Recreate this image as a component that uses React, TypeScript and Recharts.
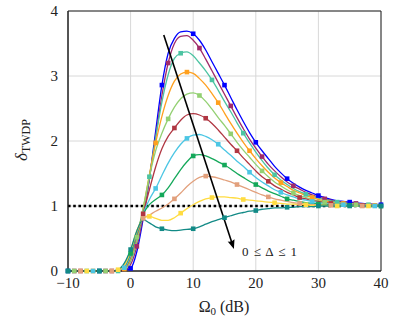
import {
  ComposedChart,
  Line,
  XAxis,
  YAxis,
  CartesianGrid,
  ReferenceLine,
  ReferenceArea,
  Label,
} from "recharts";

// Omega_0 in dB, 1 dB steps
const omega = [
  -10, -9, -8, -7, -6, -5, -4, -3, -2, -1,
  0, 1, 2, 3, 4, 5, 6, 7, 8, 9,
  10, 11, 12, 13, 14, 15, 16, 17, 18, 19,
  20, 21, 22, 23, 24, 25, 26, 27, 28, 29,
  30, 31, 32, 33, 34, 35, 36, 37, 38, 39, 40,
];

const blue = [
  0, 0, 0, 0, 0, 0, 0, 0, 0, 0.01,
  0.04, 0.3, 0.8, 1.42, 2.15, 2.86, 3.35, 3.58, 3.68, 3.69,
  3.65, 3.55, 3.4, 3.22, 3.04, 2.86, 2.67, 2.48, 2.3, 2.13,
  1.98, 1.85, 1.73, 1.61, 1.51, 1.42, 1.35, 1.29, 1.24, 1.2,
  1.16, 1.13, 1.1, 1.08, 1.07, 1.06, 1.05, 1.04, 1.03, 1.03, 1.02,
];
const purple = [
  0, 0, 0, 0, 0, 0, 0, 0, 0, 0.01,
  0.1, 0.38, 0.84, 1.42, 2.06, 2.7, 3.2, 3.5, 3.61, 3.62,
  3.55, 3.43, 3.26, 3.08, 2.9, 2.72, 2.54, 2.36, 2.19, 2.03,
  1.89, 1.76, 1.64, 1.54, 1.45, 1.37, 1.31, 1.26, 1.21, 1.17,
  1.14, 1.11, 1.09, 1.07, 1.06, 1.05, 1.04, 1.03, 1.03, 1.02, 1.02,
];
const aqua = [
  0, 0, 0, 0, 0, 0, 0, 0, 0, 0.02,
  0.15, 0.45, 0.9, 1.45, 2.05, 2.6, 3.02, 3.27, 3.35, 3.37,
  3.31, 3.2, 3.08, 2.94, 2.78, 2.61, 2.45, 2.28, 2.12, 1.97,
  1.83, 1.7, 1.58, 1.48, 1.4, 1.33, 1.27, 1.22, 1.18, 1.15,
  1.12, 1.1, 1.08, 1.06, 1.05, 1.04, 1.03, 1.03, 1.02, 1.02, 1.01,
];
const orange = [
  0, 0, 0, 0, 0, 0, 0, 0, 0, 0.03,
  0.18, 0.5, 0.95, 1.48, 1.97, 2.38, 2.7, 2.92, 3.03, 3.06,
  3.04, 2.96, 2.86, 2.73, 2.59, 2.43, 2.27, 2.12, 1.98, 1.85,
  1.73, 1.62, 1.52, 1.43, 1.36, 1.3, 1.24, 1.2, 1.16, 1.13,
  1.1, 1.08, 1.06, 1.05, 1.04, 1.03, 1.03, 1.02, 1.02, 1.01, 1.01,
];
const lightGreen = [
  0, 0, 0, 0, 0, 0, 0, 0, 0, 0.04,
  0.2, 0.52, 0.97, 1.45, 1.85, 2.12, 2.34, 2.52, 2.65, 2.72,
  2.74, 2.7, 2.61, 2.49, 2.36, 2.24, 2.11, 1.98, 1.86, 1.75,
  1.64, 1.54, 1.45, 1.37, 1.31, 1.25, 1.2, 1.16, 1.13, 1.1,
  1.08, 1.06, 1.05, 1.04, 1.03, 1.03, 1.02, 1.02, 1.01, 1.01, 1.01,
];
const red = [
  0, 0, 0, 0, 0, 0, 0, 0, 0, 0.04,
  0.22, 0.55, 0.88, 1.25, 1.6, 1.88, 2.07, 2.2, 2.32, 2.4,
  2.42, 2.4, 2.35, 2.27, 2.17, 2.06, 1.95, 1.85, 1.74, 1.64,
  1.54, 1.45, 1.38, 1.31, 1.26, 1.21, 1.17, 1.13, 1.11, 1.08,
  1.07, 1.05, 1.04, 1.03, 1.03, 1.02, 1.02, 1.01, 1.01, 1.01, 1,
];
const cyan = [
  0, 0, 0, 0, 0, 0, 0, 0, 0.01, 0.05,
  0.24, 0.57, 0.88, 1.1, 1.27, 1.47, 1.66, 1.82, 1.95, 2.04,
  2.09, 2.1, 2.07, 2.02, 1.95, 1.86, 1.78, 1.69, 1.61, 1.52,
  1.44, 1.37, 1.31, 1.25, 1.21, 1.17, 1.14, 1.11, 1.09, 1.07,
  1.05, 1.04, 1.03, 1.03, 1.02, 1.02, 1.01, 1.01, 1.01, 1, 1,
];
const green = [
  0, 0, 0, 0, 0, 0, 0, 0, 0.01, 0.07,
  0.27, 0.58, 0.87, 1.02, 1.1, 1.17, 1.28, 1.42, 1.56, 1.68,
  1.77, 1.79, 1.77, 1.73, 1.68, 1.63, 1.57, 1.5, 1.44, 1.38,
  1.33, 1.28, 1.23, 1.19, 1.15, 1.11, 1.09, 1.07, 1.05, 1.04,
  1.03, 1.02, 1.02, 1.01, 1.01, 1.01, 1, 1, 1, 1, 1,
];
const salmon = [
  0, 0, 0, 0, 0, 0, 0, 0, 0.01, 0.08,
  0.3, 0.6, 0.81, 0.86, 0.92, 0.97, 1.03, 1.11, 1.2, 1.3,
  1.38, 1.44, 1.46, 1.45, 1.43, 1.4, 1.37, 1.33, 1.29, 1.25,
  1.21, 1.17, 1.14, 1.11, 1.09, 1.07, 1.05, 1.04, 1.03, 1.02,
  1.02, 1.01, 1.01, 1.01, 1, 1, 1, 1, 1, 1, 1,
];
const yellow = [
  0, 0, 0, 0, 0, 0, 0, 0, 0.02, 0.09,
  0.32, 0.62, 0.81, 0.84, 0.81, 0.78, 0.78, 0.82, 0.89, 0.96,
  1.02, 1.07, 1.11, 1.13, 1.14, 1.14, 1.13, 1.12, 1.1, 1.09,
  1.08, 1.07, 1.06, 1.05, 1.04, 1.03, 1.03, 1.02, 1.02, 1.01,
  1.01, 1.01, 1, 1, 1, 1, 1, 1, 1, 1, 1,
];
const teal = [
  0, 0, 0, 0, 0, 0, 0, 0, 0.02, 0.12,
  0.33, 0.62, 0.79, 0.74, 0.68, 0.65, 0.63, 0.62, 0.63, 0.64,
  0.65, 0.68, 0.72, 0.76, 0.79, 0.82, 0.85, 0.88, 0.9, 0.92,
  0.93, 0.95, 0.96, 0.97, 0.97, 0.98, 0.98, 0.99, 0.99, 0.99,
  1, 1, 1, 1, 1, 1, 1, 1, 1, 1, 1,
];

const xTicks = [-10, 0, 10, 20, 30, 40];
const yTicks = [0, 1, 2, 3, 4];
const arrowLabel = "0 ≤ Δ ≤ 1";

// arrow annotation, in data coordinates
const arrowFrom = { x: 5.3, y: 3.63 };
const arrowTo = { x: 16.5, y: 0.34 };

// phase = which dB value (mod 5) carries a marker
const series = [
  { key: "blue", values: blue, color: "#0000ff", phase: 0 },
  { key: "purple", values: purple, color: "#a02b6a", phase: 1 },
  { key: "aqua", values: aqua, color: "#4cc4a2", phase: 3 },
  { key: "orange", values: orange, color: "#ffa01e", phase: 4 },
  { key: "lightGreen", values: lightGreen, color: "#93d072", phase: 1 },
  { key: "red", values: red, color: "#b03642", phase: 2 },
  { key: "cyan", values: cyan, color: "#4cc6e4", phase: 4 },
  { key: "green", values: green, color: "#14a85a", phase: 0 },
  { key: "salmon", values: salmon, color: "#e2a07c", phase: 2 },
  { key: "yellow", values: yellow, color: "#ffdc42", phase: 3 },
  { key: "teal", values: teal, color: "#128a86", phase: 0 },
];

const rows = omega.map((x, i) => {
  const r: Record<string, number> = { x };
  series.forEach((s) => (r[s.key] = s.values[i]));
  return r;
});

const FONT = "Liberation Serif, DejaVu Serif, serif";
const txt = { fontFamily: FONT };

const fmtX = (v: number) => (v < 0 ? `\u2212${-v}` : `${v}`);

const makeDot = (color: string, phase: number) => (props: any) => {
  const { cx, cy, index } = props;
  const k = `${color}-${index}`;
  if (cx == null || cy == null || (((index - phase) % 5) + 5) % 5 !== 0) return <g key={k} />;
  return <rect key={k} x={cx - 2.3} y={cy - 2.3} width={4.6} height={4.6} fill={color} />;
};

const YLabel = () => (
  <text transform="rotate(-90, 27, 140)" x={27} y={140} textAnchor="middle" style={txt} fill="#222">
    <tspan fontSize={17} fontStyle="italic">δ</tspan>
    <tspan fontSize={12} dy={3}>TWDP</tspan>
  </text>
);

const XLabel = () => (
  <text x={224} y={312} textAnchor="middle" style={txt} fontSize={16} fill="#222">
    <tspan>Ω</tspan>
    <tspan fontSize={11} dy={3}>0</tspan>
    <tspan dy={-3}> (dB)</tspan>
  </text>
);

const Arrow = (p: any) => {
  const { x1, y1, x2, y2 } = p;
  const dx = x2 - x1;
  const dy = y2 - y1;
  const len = Math.sqrt(dx * dx + dy * dy);
  const ux = dx / len;
  const uy = dy / len;
  const hl = 9;
  const hw = 3.6;
  const bx = x2 - ux * hl;
  const by = y2 - uy * hl;
  return (
    <g>
      <line x1={x1} y1={y1} x2={bx + ux * 2} y2={by + uy * 2} stroke="#000" strokeWidth={1.6} />
      <path
        d={`M${x2},${y2} L${bx - uy * hw},${by + ux * hw} Q${bx + ux * 2},${by + uy * 2} ${bx + uy * hw},${by - ux * hw} Z`}
        fill="#000"
      />
      <text x={x2 + 8} y={y2 + 7} style={txt} fontSize={13} wordSpacing={2} fill="#222">
        {arrowLabel}
      </text>
    </g>
  );
};

export default function App() {
  return (
    <div style={{ position: "absolute", left: 0, top: 0, background: "#fff", fontFamily: FONT }}>
      <ComposedChart
        width={395}
        height={322}
        data={rows}
        margin={{ top: 11, right: 14, bottom: 21, left: 28 }}
      >
        <CartesianGrid stroke="#d8d8d8" strokeWidth={1} />
        <XAxis
          dataKey="x"
          type="number"
          domain={[-10, 40]}
          ticks={xTicks}
          tickFormatter={fmtX}
          axisLine={{ stroke: "#222" }}
          tickLine={false}
          tickSize={0}
          tickMargin={6}
          height={30}
          tick={{ fontFamily: FONT, fontSize: 15, fill: "#222", style: txt }}
        >
          <Label content={XLabel} />
        </XAxis>
        <YAxis
          type="number"
          domain={[0, 4]}
          ticks={yTicks}
          axisLine={{ stroke: "#222" }}
          tickLine={false}
          tickSize={0}
          tickMargin={10}
          width={40}
          tick={{ fontFamily: FONT, fontSize: 15, fill: "#222", style: txt }}
        >
          <Label content={YLabel} />
        </YAxis>
        <ReferenceArea x1={-10} x2={40} y1={0} y2={4} fill="none" stroke="#222" strokeWidth={1} />
        <ReferenceLine y={1} stroke="#000" strokeWidth={2.6} strokeDasharray="2.6 2.6" />
        {series.map((s) => (
          <Line
            key={s.key}
            dataKey={s.key}
            type="monotone"
            stroke={s.color}
            strokeWidth={1.3}
            dot={makeDot(s.color, s.phase)}
            activeDot={false}
            isAnimationActive={false}
          />
        ))}
        <ReferenceLine segment={[arrowFrom, arrowTo]} shape={Arrow} />
      </ComposedChart>
    </div>
  );
}
